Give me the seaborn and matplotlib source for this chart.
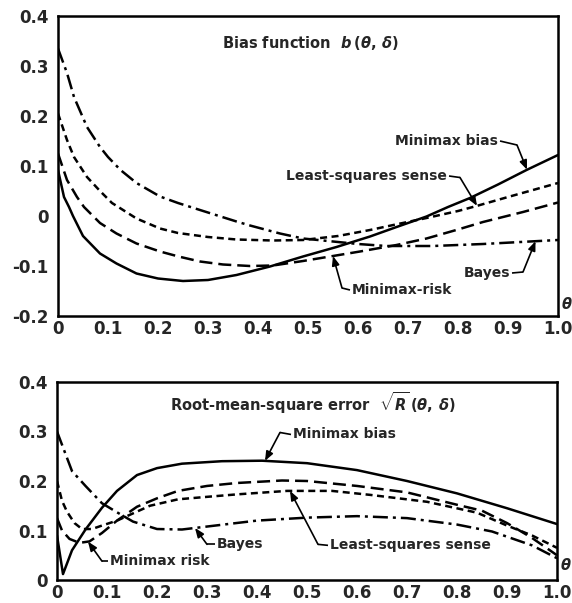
import numpy as np
import matplotlib
matplotlib.use("Agg")
import matplotlib.pyplot as plt
import seaborn as sns

# ---- Bias function b(theta, delta) ----
bias_mb_theta = [0, .012, .022, .03, .05, .084, .117, .157, .2, .25, .3, .357, .424, .49,
                 .557, .624, .68, .737, .78, .824, .88, .937, 1.0]
bias_mb = [.092, .038, .018, 0.0, -.04, -.075, -.095, -.115, -.125, -.13, -.128, -.118,
           -.101, -.081, -.062, -.041, -.021, -.001, .018, .036, .063, .092, .122]

bias_ls_theta = [0, .018, .032, .058, .084, .108, .157, .204, .24, .3, .357, .43, .49, .56,
                 .624, .68, .737, .8, .837, .9, 1.0]
bias_ls = [.205, .152, .118, .078, .05, .026, -.005, -.025, -.034, -.042, -.047, -.049,
           -.048, -.04, -.028, -.016, -.004, .01, .02, .038, .066]

bias_mr_theta = [0, .018, .038, .052, .084, .117, .157, .204, .241, .284, .33, .384, .43,
                 .49, .55, .604, .677, .737, .8, .85, .93, 1.0]
bias_mr = [.125, .072, .038, .018, -.014, -.035, -.055, -.071, -.081, -.091, -.097, -.1,
           -.099, -.09, -.08, -.071, -.058, -.045, -.027, -.012, .008, .027]

bias_by_theta = [0, .018, .032, .058, .084, .1, .125, .157, .204, .24, .284, .357, .384, .444,
                 .49, .55, .6, .657, .75, .85, 1.0]
bias_by = [.335, .286, .238, .178, .138, .118, .092, .066, .039, .026, .012, -.011, -.019,
           -.035, -.045, -.051, -.056, -.06, -.06, -.056, -.048]

# ---- Root-mean-square error sqrt(R)(theta, delta) ----
rms_mb_theta = [0, .012, .03, .057, .09, .12, .16, .2, .25, .33, .41, .5, .6, .7, .8, .9, 1.0]
rms_mb = [.09, .012, .06, .102, .146, .18, .212, .226, .235, .24, .241, .236, .222, .2,
          .175, .145, .113]

rms_ls_theta = [0, .01, .02, .035, .05, .07, .09, .12, .186, .242, .3, .36, .46, .55, .626,
                .74, .84, .9, .95, 1.0]
rms_ls = [.2, .16, .138, .115, .103, .103, .11, .12, .15, .163, .168, .173, .18, .18, .172,
          .158, .136, .11, .09, .065]

rms_mr_theta = [0, .01, .025, .045, .065, .09, .12, .16, .2, .242, .3, .36, .45, .5, .6, .7,
                .8, .85, .9, .95, 1.0]
rms_mr = [.125, .1, .083, .075, .078, .095, .12, .148, .165, .18, .19, .196, .201, .2, .19,
          .177, .152, .14, .115, .085, .05]

rms_by_theta = [0, .015, .03, .057, .09, .123, .152, .2, .25, .3, .4, .5, .6, .7, .8, .87,
                .95, 1.0]
rms_by = [.3, .26, .22, .19, .155, .135, .118, .103, .102, .108, .12, .126, .129, .125, .112,
          .098, .07, .044]

x_ticks = [0, .1, .2, .3, .4, .5, .6, .7, .8, .9, 1.0]
bias_yticks = [-.2, -.1, 0, .1, .2, .3, .4]
rms_yticks = [0, .1, .2, .3, .4]

sns.set_style("white")
plt.rcParams.update({
    "font.family": ["DejaVu Sans"],
    "font.weight": "bold",
    "mathtext.fontset": "custom",
    "mathtext.it": "DejaVu Sans:italic:bold",
    "mathtext.rm": "DejaVu Sans:bold",
    "mathtext.bf": "DejaVu Sans:bold",
    "axes.unicode_minus": False,
})

W, H = 572, 603
fig = plt.figure(figsize=(W / 100, H / 100), dpi=100)
ax1 = fig.add_axes([58 / W, 1 - 316 / H, 500 / W, 300 / H])
ax2 = fig.add_axes([57 / W, 1 - 580 / H, 500 / W, 198 / H])

LW = 1.8
STYLES = {
    "mb": "-",
    "ls": (0, (2.8, 1.8)),
    "mr": (0, (5.2, 2.4)),
    "by": (0, (6.0, 2.0, 1.2, 2.0)),
}


def draw(ax, x, y, key):
    sns.lineplot(x=x, y=y, ax=ax, color="black", lw=LW, linestyle=STYLES[key],
                 estimator=None, sort=False, legend=False)


for x, y, k in [(bias_mb_theta, bias_mb, "mb"), (bias_ls_theta, bias_ls, "ls"),
                (bias_mr_theta, bias_mr, "mr"), (bias_by_theta, bias_by, "by")]:
    draw(ax1, x, y, k)
for x, y, k in [(rms_mb_theta, rms_mb, "mb"), (rms_ls_theta, rms_ls, "ls"),
                (rms_mr_theta, rms_mr, "mr"), (rms_by_theta, rms_by, "by")]:
    draw(ax2, x, y, k)


def fmt(v):
    return "0" if abs(v) < 1e-9 else f"{v:.1f}"


for ax, yt, ylim in [(ax1, bias_yticks, (-0.2, 0.4)), (ax2, rms_yticks, (0, 0.4))]:
    ax.set_xlim(0, 1)
    ax.set_ylim(*ylim)
    ax.set_xticks(x_ticks)
    ax.set_xticklabels([fmt(v) for v in x_ticks])
    ax.set_yticks(yt)
    ax.set_yticklabels([fmt(v) for v in yt])
    ax.tick_params(axis="y", direction="in", length=7, width=1.4, pad=7, labelsize=12)
    ax.tick_params(axis="x", direction="in", length=6, width=1.4, pad=3, labelsize=12)
    for s in ax.spines.values():
        s.set_linewidth(1.8)
        s.set_color("black")
    ax.set_xlabel("")
    ax.set_ylabel("")
    for lab in ax.get_xticklabels() + ax.get_yticklabels():
        lab.set_fontweight("bold")

FS = 10


def callout(ax, label, anchor, ha, corner, target_x, cx, cy):
    ax.text(anchor[0], anchor[1], label, ha=ha, va="center", fontsize=FS,
            fontweight="bold")
    ty = float(np.interp(target_x, cx, cy))
    ax.plot([anchor[0] + (0.004 if ha == "right" else -0.004), corner[0]],
            [anchor[1], corner[1]], color="black", lw=1.2, solid_capstyle="butt")
    ax.annotate("", xy=(target_x, ty), xytext=corner,
                arrowprops=dict(arrowstyle="-|>,head_length=0.55,head_width=0.22",
                                color="black", lw=1.2, shrinkA=0, shrinkB=0))


callout(ax1, "Minimax bias", (.88, .15), "right", (.918, .142), .938, bias_mb_theta, bias_mb)
callout(ax1, "Least-squares sense", (.778, .08), "right", (.804, .077), .838,
        bias_ls_theta, bias_ls)
callout(ax1, "Minimax-risk", (.588, -.148), "left", (.568, -.144), .55, bias_mr_theta, bias_mr)
callout(ax1, "Bayes", (.904, -.114), "right", (.93, -.112), .955, bias_by_theta, bias_by)

callout(ax2, "Minimax bias", (.472, .294), "left", (.446, .298), .416, rms_mb_theta, rms_mb)
callout(ax2, "Bayes", (.32, .072), "left", (.3, .072), .276, rms_by_theta, rms_by)
callout(ax2, "Minimax risk", (.106, .038), "left", (.09, .038), .062, rms_mr_theta, rms_mr)
callout(ax2, "Least-squares sense", (.546, .07), "left", (.522, .072), .466,
        rms_ls_theta, rms_ls)

ax1.text(.328, .346, r"Bias function  $b\,(\theta,\,\delta)$", ha="left", va="center",
         fontsize=10.5, fontweight="bold")
ax2.text(.226, .358, r"Root-mean-square error  $\sqrt{R}\,(\theta,\,\delta)$", ha="left",
         va="center", fontsize=10.5, fontweight="bold")

ax1.text(1.006, -.176, r"$\theta$", fontsize=10.5, ha="left", va="center", clip_on=False)
ax2.text(1.006, .03, r"$\theta$", fontsize=10.5, ha="left", va="center", clip_on=False)

fig.savefig("out.png", dpi=100, facecolor="white")
